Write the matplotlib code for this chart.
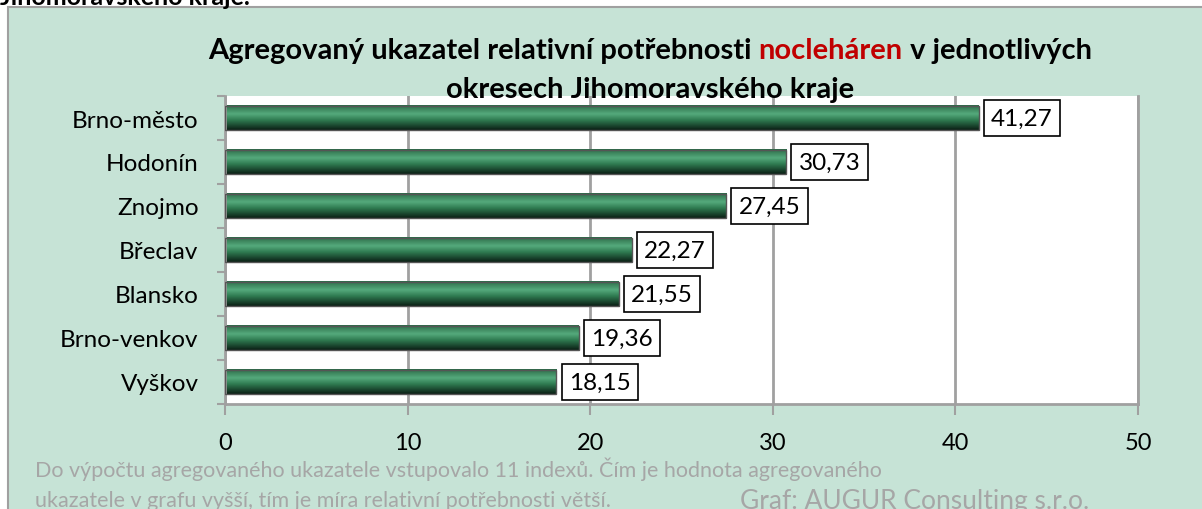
import numpy as np
import matplotlib.pyplot as plt
from matplotlib.colors import to_rgb
from matplotlib.patches import Rectangle

# data
districts = ["Brno-město", "Hodonín", "Znojmo", "Břeclav", "Blansko", "Brno-venkov", "Vyškov"]
values = [41.27, 30.73, 27.45, 22.27, 21.55, 19.36, 18.15]
x_ticks = [0, 10, 20, 30, 40, 50]

title_parts = [("Agregovaný ukazatel relativní potřebnosti ", "black"),
               ("nocleháren", "#c00000"),
               (" v jednotlivých", "black")]
title_line2 = "okresech Jihomoravského kraje"
note_lines = ["Do výpočtu agregovaného ukazatele vstupovalo 11 indexů. Čím je hodnota agregovaného",
              "ukazatele v grafu vyšší, tím je míra relativní potřebnosti větší."]
source = "Graf: AUGUR Consulting s.r.o."

W, H = 1202, 510
plt.rcParams['font.family'] = ['Lato', 'DejaVu Sans']

fig = plt.figure(figsize=(W / 100, H / 100), dpi=100)
fig.patch.set_facecolor("white")

# green panel
panel = Rectangle((8 / W, -0.05), 1.0, 1 - 8 / H + 0.05, transform=fig.transFigure,
                  facecolor="#c6e3d6", edgecolor="#a0a0a0", lw=1.5, zorder=-5)
fig.add_artist(panel)
# cut-off heading above the panel
fig.text(0 / W, 1 - 5 / H, "Jihomoravského kraje.", fontsize=18, fontweight="bold",
         va="baseline", ha="left", zorder=-4)

ax = fig.add_axes([225 / W, 1 - 405 / H, (1138 - 225) / W, (405 - 97) / H])
ax.set_zorder(1)
ax.set_facecolor("white")

n = len(districts)
ypos = np.arange(n)[::-1]
bar_h = 0.55

# vertical gradient for bars
stops = [(0.0, "#2b6a47"), (0.35, "#55aa7c"), (0.6, "#2f7b51"), (1.0, "#0b2015")]
t = np.linspace(0, 1, 64)
grad = np.zeros((64, 1, 3))
for c in range(3):
    grad[:, 0, c] = np.interp(t, [s[0] for s in stops], [to_rgb(s[1])[c] for s in stops])

for y, v in zip(ypos, values):
    ax.imshow(grad, extent=[0, v, y - bar_h / 2, y + bar_h / 2], aspect="auto",
              origin="upper", zorder=2, interpolation="bilinear")
bars = ax.barh(ypos, values, height=bar_h, color="none", edgecolor="#555555", lw=1.0, zorder=3)

for y, v in zip(ypos, values):
    ax.annotate(f"{v:.2f}".replace(".", ","), xy=(v, y), xytext=(9, 0),
                textcoords="offset points", va="center", ha="left", fontsize=17.5,
                bbox=dict(boxstyle="square,pad=0.3", fc="white", ec="black", lw=1.2), zorder=5)

ax.set_xlim(0, 50)
ax.set_ylim(-0.5, n - 0.5)
ax.set_xticks(x_ticks)
ax.set_xticklabels([str(x) for x in x_ticks], fontsize=17)
ax.xaxis.grid(True, color="#a0a0a0", lw=2, zorder=1)
ax.set_axisbelow(True)

ax.set_yticks(ypos)
ax.set_yticklabels(districts, fontsize=17.5)
ax.tick_params(axis="y", length=0, pad=19)
ax.set_yticks(np.arange(-0.5, n, 1.0), minor=True)
ax.tick_params(axis="y", which="minor", length=6, color="#a0a0a0", width=1.5)
ax.tick_params(axis="x", length=8, color="#a0a0a0", width=1.5, pad=12)

ax.spines["top"].set_visible(False)
for s in ["left", "bottom", "right"]:
    ax.spines[s].set_color("#a0a0a0")
    ax.spines[s].set_linewidth(2)

# title with coloured word
fig.canvas.draw()
r = fig.canvas.get_renderer()
fs = 21
widths = []
for txt, col in title_parts:
    tt = fig.text(0, 0, txt, fontsize=fs, fontweight="bold")
    widths.append(tt.get_window_extent(r).width)
    tt.remove()
x0 = 650 - sum(widths) / 2
for (txt, col), w in zip(title_parts, widths):
    fig.text(x0 / W, 1 - 59 / H, txt, fontsize=fs, fontweight="bold", color=col,
             ha="left", va="baseline", zorder=10)
    x0 += w
fig.text(650 / W, 1 - 98 / H, title_line2, fontsize=fs, fontweight="bold",
         ha="center", va="baseline", zorder=10)

# footnote and source
for i, line in enumerate(note_lines):
    fig.text(35 / W, 1 - (477 + 30 * i) / H, line, fontsize=15.5, color="#a6a6a6",
             ha="left", va="baseline")
fig.text(740 / W, 1 - 509 / H, source, fontsize=19, color="#a6a6a6", ha="left", va="baseline")

fig.savefig("out.png", dpi=100)
